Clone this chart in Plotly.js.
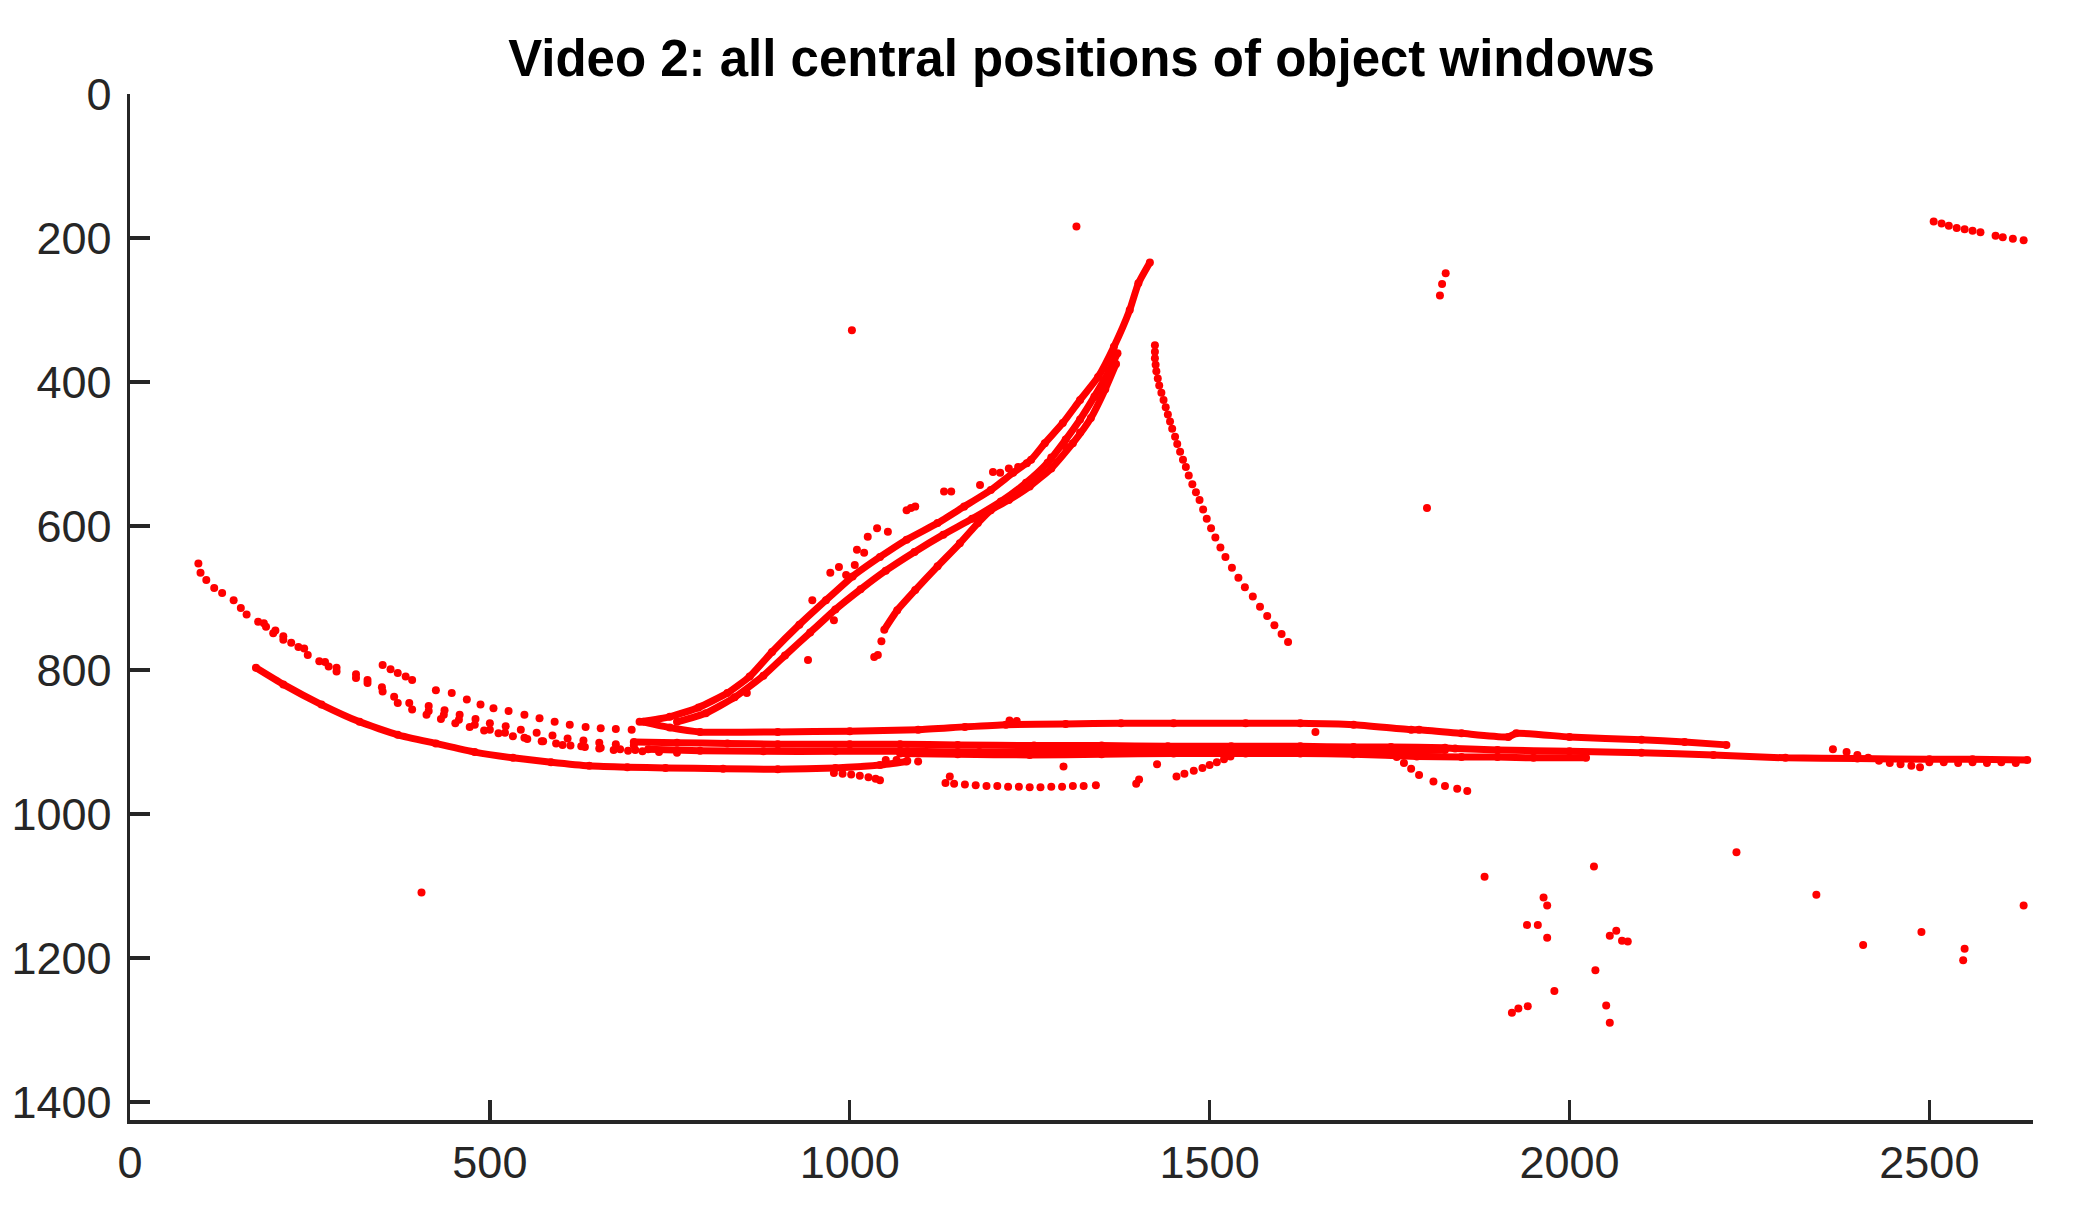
<!DOCTYPE html>
<html>
<head>
<meta charset="utf-8">
<script src="https://cdn.plot.ly/plotly-3.0.1.min.js"></script>
<style>
  html, body { margin: 0; padding: 0; background: #fff; }
  #graph { width: 2079px; height: 1207px; }
</style>
</head>
<body>
<div id="graph"></div>
<script>
// central positions of object windows (pixel coords of the video frame)

// outer dotted arc on the left
var upArcX = [95, 98, 106, 117, 128, 144, 154, 162, 178, 189, 199, 213, 234, 247, 263, 276, 287, 314, 330, 351, 367, 388, 415, 436, 457, 479, 500, 521, 548, 574, 601, 627, 654, 681, 702];
var upArcY = [652, 665, 675, 686, 693, 703, 714, 723, 733, 740, 749, 758, 768, 779, 788, 795, 802, 811, 818, 830, 837, 846, 857, 862, 869, 876, 883, 887, 894, 899, 904, 906, 908, 910, 911];

// second dotted row just under it
var upArc2X = [186, 202, 213, 224, 242, 271, 287, 314, 330, 350, 372, 392, 412, 432, 452, 472, 492, 512, 532, 552, 572, 592, 612, 632, 652, 672, 692, 712, 735, 760];
var upArc2Y = [735, 745, 753, 762, 770, 789, 797, 806, 814, 824, 846, 855, 862, 868, 874, 879, 884, 888, 892, 896, 899, 902, 905, 907, 909, 911, 912, 913, 914, 915];
var upArc3X = [415, 437, 458, 480, 500, 522, 543, 565, 587, 608, 630, 652, 675, 700];
var upArc3Y = [850, 856, 862, 868, 874, 878, 883, 887, 891, 895, 898, 901, 903, 905];

var shortSegX = [351, 362, 372, 383, 392];
var shortSegY = [793, 799, 804, 809, 814];

var rowU2X = [425, 447, 468, 487, 505, 526, 548, 569, 590, 611, 633, 654, 675, 697];
var rowU2Y = [828, 832, 841, 848, 853, 857, 862, 867, 872, 876, 879, 881, 882, 883];

// solid lower arc
var lowArcX = [175, 213, 266, 319, 372, 425, 479, 532, 585, 638, 691, 744, 824, 900, 980, 1042, 1079];
var lowArcY = [797, 820, 848, 872, 890, 902, 914, 922, 928, 933, 935, 936, 937, 938, 936, 932, 927];

// horizontal band
var band1X = [713, 750, 792, 900, 1000, 1095, 1160, 1217, 1300, 1377, 1450, 1550, 1626, 1700, 1780, 1791, 1850, 1915, 1926, 2000, 2100, 2160, 2218];
var band1Y = [872, 880, 886, 886, 885, 883, 879, 876, 875, 874, 874, 874, 874, 876, 883, 883, 888, 893, 888, 893, 897, 900, 904];
var band2X = [700, 760, 830, 900, 1000, 1070, 1150, 1256, 1350, 1442, 1530, 1626, 1700, 1752, 1827, 1841, 1900, 2000, 2100, 2200, 2300, 2400, 2500, 2560, 2636];
var band2Y = [900, 901, 902, 903, 903, 903, 904, 905, 905, 906, 906, 906, 907, 907, 908, 909, 911, 913, 915, 918, 922, 923, 924, 924, 925];
var band2bX = [720, 792, 880, 980, 1080, 1180, 1280, 1380, 1480, 1580, 1626, 1700, 1780, 1827];
var band2bY = [910, 912, 913, 913, 913, 914, 914, 913, 912, 912, 911, 911, 912, 911];
var band3X = [1070, 1150, 1250, 1350, 1450, 1550, 1626, 1700, 1788, 1850, 1900, 1950, 2023];
var band3Y = [916, 917, 918, 917, 916, 916, 916, 917, 920, 921, 921, 922, 922];
var band4X = [2366, 2385, 2400, 2415, 2430, 2445, 2460, 2475, 2487, 2500, 2520, 2540, 2560, 2580, 2600, 2620];
var band4Y = [910, 914, 918, 922, 926, 929, 931, 933, 935, 928, 928, 929, 928, 929, 928, 929];

// rising strands (left side of the peak)
var rise1X = [708, 750, 790, 830, 861, 892, 930, 967, 1004, 1042, 1079, 1122, 1159, 1196, 1227, 1252, 1271, 1296, 1320, 1345, 1367, 1389, 1401, 1417];
var rise1Y = [872, 865, 852, 832, 809, 775, 737, 703, 670, 643, 619, 596, 573, 550, 526, 508, 485, 457, 425, 393, 351, 300, 263, 234];
var rise2X = [760, 800, 840, 880, 910, 945, 980, 1015, 1050, 1090, 1130, 1170, 1210, 1245, 1275, 1300, 1320, 1340, 1360, 1372];
var rise2Y = [872, 860, 838, 808, 780, 748, 716, 688, 662, 636, 612, 590, 566, 540, 512, 480, 452, 420, 385, 360];
var rise3X = [1048, 1066, 1091, 1122, 1153, 1178, 1196, 1221, 1250, 1280, 1310, 1335, 1355, 1370];
var rise3Y = [744, 717, 689, 656, 624, 596, 578, 564, 545, 520, 485, 450, 410, 375];
var riseDotsX = [1034, 1039, 1044, 942, 948, 973, 985, 995, 1007, 1010, 1020, 1025, 1038, 1053, 1079, 1091, 1085, 1131, 1141, 1181, 1199, 1209, 1221, 1234, 1246, 857, 978, 1280, 1300, 1320];
var riseDotsY = [782, 779, 760, 786, 703, 665, 657, 668, 654, 633, 637, 615, 603, 608, 578, 573, 575, 552, 552, 543, 525, 526, 520, 518, 513, 832, 731, 505, 490, 470];

// descending branch (right side of the peak)
var fallX = [1424, 1424, 1424, 1425, 1426, 1428, 1430, 1433, 1436, 1439, 1442, 1445, 1448, 1452, 1455, 1459, 1463, 1467, 1471, 1476, 1481, 1486, 1491, 1496, 1502, 1508, 1515, 1522, 1531, 1540, 1549, 1560, 1570, 1580, 1590, 1600, 1609];
var fallY = [349, 358, 367, 376, 385, 395, 405, 415, 425, 435, 445, 455, 465, 476, 486, 497, 508, 518, 530, 542, 553, 564, 577, 590, 603, 616, 630, 643, 658, 672, 685, 698, 712, 725, 738, 750, 761];

// top right track and small pieces
var topRightX = [2506, 2517, 2527, 2538, 2549, 2560, 2571, 2592, 2602, 2616, 2631];
var topRightY = [177, 180, 183, 186, 188, 190, 192, 197, 199, 201, 203];
var smallX = [1828, 1823, 1820];
var smallY = [249, 264, 280];

// segments under the band
var seg1X = [1139, 1133, 1145, 1160, 1175, 1190, 1205, 1220, 1235, 1250, 1265, 1280, 1295, 1310, 1325, 1342];
var seg1Y = [948, 957, 958, 959, 960, 961, 961, 962, 962, 963, 963, 962, 962, 961, 961, 960];
var seg2X = [1454, 1465, 1478, 1490, 1500, 1510, 1520, 1529, 1398, 1402, 1427, 1297, 1095, 1050, 1065, 1080];
var seg2Y = [948, 944, 940, 936, 932, 928, 924, 920, 958, 952, 931, 934, 927, 925, 925, 926];
var seg3X = [978, 990, 1002, 1014, 1026, 1036, 1042];
var seg3Y = [943, 944, 945, 947, 949, 951, 953];
var dropX = [1752, 1760, 1770, 1780, 1791, 1811, 1827, 1844, 1858];
var dropY = [911, 921, 929, 937, 946, 955, 961, 965, 968];
var bumpX = [1222, 1232, 1647];
var bumpY = [870, 871, 886];

// isolated detections
var loneX = [1315, 1003, 1802, 405, 1882, 2232, 2034, 2343, 2631, 1964, 1969, 1941, 1956, 1969, 2065, 2056, 2073, 2081, 2408, 2489, 2549, 2547, 2036, 1979, 2051, 2056, 1920, 1929, 1942];
var loneY = [184, 328, 575, 1109, 1087, 1053, 1073, 1112, 1127, 1116, 1127, 1154, 1154, 1172, 1162, 1169, 1176, 1177, 1182, 1164, 1187, 1203, 1217, 1246, 1266, 1290, 1276, 1270, 1267];

var red = 'rgb(255,0,0)';

function dots(xs, ys) {
    return {x: xs, y: ys, type: 'scatter', mode: 'markers',
            marker: {color: red, size: 8}, hoverinfo: 'x+y'};
}
function solid(xs, ys) {
    return {x: xs, y: ys, type: 'scatter', mode: 'lines+markers',
            line: {color: red, width: 7, shape: 'spline', smoothing: 0.5},
            marker: {color: red, size: 8}, hoverinfo: 'x+y'};
}

var data = [
    dots(upArcX, upArcY),
    dots(upArc2X, upArc2Y),
    dots(upArc3X, upArc3Y),
    dots(shortSegX, shortSegY),
    dots(rowU2X, rowU2Y),
    solid(lowArcX, lowArcY),
    solid(band1X, band1Y),
    solid(band2X, band2Y),
    solid(band2bX, band2bY),
    solid(band3X, band3Y),
    dots(band4X, band4Y),
    solid(rise1X, rise1Y),
    solid(rise2X, rise2Y),
    solid(rise3X, rise3Y),
    dots(riseDotsX, riseDotsY),
    dots(fallX, fallY),
    dots(topRightX, topRightY),
    dots(smallX, smallY),
    dots(seg1X, seg1Y),
    dots(seg2X, seg2Y),
    dots(seg3X, seg3Y),
    dots(dropX, dropY),
    dots(bumpX, bumpY),
    dots(loneX, loneY)
];

var axisColor = '#262626';

var layout = {
    width: 2079,
    height: 1207,
    showlegend: false,
    paper_bgcolor: '#fff',
    plot_bgcolor: '#fff',
    margin: {l: 130, r: 46, t: 94, b: 87},
    font: {family: 'Liberation Sans, Arial, sans-serif', color: axisColor, size: 45},
    title: {
        text: '<b>Video 2: all central positions of object windows</b>',
        font: {family: 'Liberation Sans, Arial, sans-serif', size: 51, color: '#000'},
        xref: 'paper', x: 0.5, xanchor: 'center',
        yref: 'container', y: 1 - 58 / 1207, yanchor: 'middle'
    },
    xaxis: {
        range: [0, 2644],
        dtick: 500, tick0: 0,
        ticks: 'inside', ticklen: 20, tickwidth: 3.5, tickcolor: axisColor,
        showline: true, linecolor: axisColor, linewidth: 3.5,
        showgrid: false, zeroline: false,
        ticklabelstandoff: 0,
        tickfont: {size: 45, color: axisColor}
    },
    yaxis: {
        range: [1425, 0],
        dtick: 200, tick0: 0,
        ticks: 'inside', ticklen: 20, tickwidth: 3.5, tickcolor: axisColor,
        showline: true, linecolor: axisColor, linewidth: 3.5,
        showgrid: false, zeroline: false,
        ticklabelstandoff: 6,
        tickfont: {size: 45, color: axisColor}
    }
};

Plotly.newPlot('graph', data, layout, {displayModeBar: false, staticPlot: true});
</script>
</body>
</html>
